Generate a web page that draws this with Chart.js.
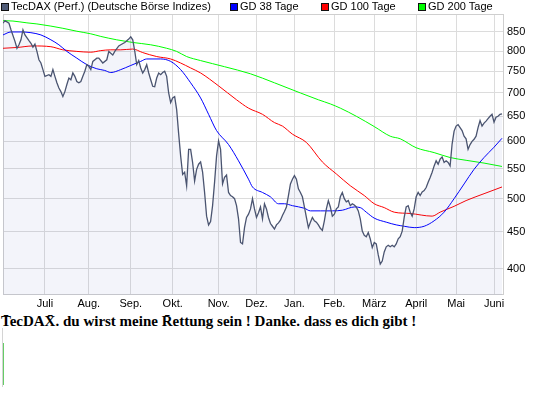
<!DOCTYPE html>
<html>
<head>
<meta charset="utf-8">
<script src="https://cdn.jsdelivr.net/npm/chart.js@4/dist/chart.umd.min.js"></script>
<style>
  body { margin: 0; background: #fff; width: 545px; height: 395px; position: relative; overflow: hidden; font-family: "Liberation Sans", Arial, sans-serif; }
  #wrap { position: absolute; left: 0; top: 0; width: 545px; height: 312px; }
  .lg { position: absolute; top: 0; font-size: 11px; line-height: 13px; color: #000; white-space: nowrap; }
  .box { position: absolute; top: 3px; width: 6px; height: 6px; border: 1px solid #111; }
  #caption { position: absolute; left: 1px; top: 313px; font-family: "Liberation Serif", serif; font-weight: bold; font-size: 15px; line-height: 17px; color: #000; white-space: nowrap; }
  .vline { position: absolute; width: 1px; }
</style>
</head>
<body>
<div id="wrap"><canvas id="chart" width="545" height="312"></canvas></div>
<div id="legend"></div>
<div id="caption">T̄ecDAX̄. du wirst meine R̄ettung sein ! Danke. dass es dich gibt !</div>
<div class="vline" style="left:2px;top:328px;height:59px;background:#d4d4d4"></div>
<div class="vline" style="left:3px;top:343px;height:42px;background:#66cc66"></div>
<script>
/* global Chart */
// x = Handelstag seit Beginn (0 = Anfang Juni), y = Punkte
const monthDays = [21, 43, 64, 85, 108, 127, 146, 166, 186, 207, 227, 246]
const monthLabels = ['Juli', 'Aug.', 'Sep.', 'Okt.', 'Nov.', 'Dez.', 'Jan.', 'Feb.', 'März', 'April', 'Mai', 'Juni']
const yTicks = [400, 450, 500, 550, 600, 650, 700, 750, 800, 850]

const priceDays = [0, 1, 3, 4, 6, 7, 8, 9, 10, 11, 13, 14, 15, 16, 17, 18, 19, 20, 21, 23, 24, 25, 26, 27, 28, 29, 30,
  31, 32, 33, 34, 35, 36, 37, 38, 39, 40, 41, 42, 43, 44, 45, 47, 48, 50, 52, 53, 55, 56, 58, 59, 61, 63, 64, 65,
  66, 67, 68, 69, 70, 71, 72, 73, 74, 75, 76, 77, 78, 79, 80, 81, 82, 83, 84, 85, 86, 87, 88, 89, 90, 91, 92, 93,
  94, 95, 96, 97, 98, 99, 100, 101, 102, 103, 104, 105, 106, 107, 108, 109, 110, 111, 112, 113, 114, 115, 116, 117,
  118, 119, 120, 121, 122, 123, 124, 125, 126, 127, 128, 129, 130, 131, 132, 133, 134, 135, 136, 137, 138, 139, 140,
  141, 142, 143, 144, 145, 146, 147, 148, 149, 150, 151, 152, 153, 154, 155, 156, 157, 158, 159, 160, 161, 162, 163,
  164, 165, 166, 167, 168, 169, 170, 171, 172, 173, 174, 175, 176, 177, 178, 179, 180, 181, 182, 183, 184, 185, 186,
  187, 188, 189, 190, 191, 192, 193, 194, 195, 196, 197, 198, 199, 200, 201, 202, 203, 204, 205, 206, 207, 208, 209,
  210, 211, 212, 213, 214, 215, 216, 217, 218, 219, 220, 221, 222, 223, 224, 225, 226, 227, 228, 229, 230, 231, 232,
  233, 234, 235, 236, 237, 238, 239, 240, 241, 242, 243, 244, 245, 246, 247, 248, 249, 250]
const priceValues = [874, 881, 874, 856, 825, 807, 816, 829, 856, 842, 827, 820, 810, 818, 799, 778, 770, 754, 738, 742, 738, 754, 738, 723, 711, 703, 692,
  703, 719, 734, 730, 746, 738, 726, 723, 726, 738, 750, 766, 762, 754, 774, 782, 782, 770, 778, 799, 790, 799, 813, 816, 822, 831, 837, 829,
  800, 766, 776, 758, 746, 754, 766, 746, 730, 715, 714, 734, 746, 742, 747, 750, 738, 700, 679, 689, 692, 664, 615, 573, 540, 544, 521, 585,
  585, 561, 529, 549, 558, 562, 544, 510, 473, 460, 465, 489, 527, 573, 601, 585, 524, 535, 539, 510, 505, 503, 500, 489,
  469, 435, 433, 456, 471, 476, 484, 500, 484, 471, 478, 487, 469, 492, 484, 471, 462, 458, 454, 460, 463, 467, 474,
  480, 487, 505, 524, 532, 538, 532, 516, 510, 503, 487, 471, 456, 464, 471, 466, 464, 460, 455, 452, 466, 484, 497,
  487, 473, 476, 484, 487, 503, 510, 500, 495, 497, 489, 492, 490, 487, 481, 469, 451, 445, 443, 449, 440, 428, 435,
  433, 418, 406, 410, 422, 429, 431, 429, 431, 429, 433, 440, 443, 451, 471, 487, 489, 479, 473, 484, 503, 510, 505,
  511, 513, 518, 527, 535, 544, 555, 564, 558, 567, 571, 561, 564, 561, 555, 595, 620, 630, 633, 627, 621, 610, 605,
  585, 594, 600, 604, 610, 627, 641, 630, 636, 640, 645, 650, 654, 638, 648, 650, 654, 655]

const gd38Days = [0, 4, 9, 14, 19, 24, 28, 32, 37, 42, 47, 51, 54, 59, 64, 69, 72, 79, 84, 89, 94, 99, 103, 107, 113, 118, 123, 125, 130, 134,
  138, 141, 145, 151, 154, 159, 165, 170, 176, 179, 182, 186, 192, 197, 201, 206, 211, 216, 221, 226, 231, 236, 241, 246, 250]
const gd38Values = [842, 850, 850, 848, 842, 829, 816, 799, 782, 766, 756, 752, 747, 754, 764, 774, 780, 780, 774, 754, 723, 689, 654, 621, 594, 564, 532, 519, 510, 503,
  492, 492, 489, 485, 481, 481, 481, 482, 487, 486, 479, 470, 464, 460, 458, 456, 458, 466, 479, 500, 524, 549, 570, 589, 606]

const gd100Days = [0, 7, 15, 24, 30, 37, 44, 49, 54, 59, 65, 70, 77, 84, 89, 94, 99, 108, 117, 123, 130, 136, 140, 145, 152, 160, 167, 174, 181, 186,
  191, 196, 204, 215, 219, 226, 232, 241, 250]
const gd100Values = [807, 809, 813, 811, 803, 799, 797, 801, 803, 803, 805, 796, 786, 780, 770, 758, 746, 716, 685, 667, 654, 637, 630, 614, 598, 562, 541, 521, 505, 492,
  486, 479, 477, 473, 479, 488, 497, 508, 519]

const gd200Days = [0, 5, 12, 17, 24, 30, 37, 44, 49, 57, 65, 74, 82, 87, 92, 99, 111, 124, 136, 149, 158, 164, 169, 177, 186, 194, 199, 207, 216, 224,
  232, 241, 250]
const gd200Values = [881, 880, 875, 872, 866, 860, 852, 845, 838, 829, 822, 816, 807, 799, 786, 776, 761, 744, 723, 700, 685, 676, 667, 650, 629, 610, 605, 588, 579, 570,
  565, 560, 554]

const seriesNames = ['TecDAX (Perf.) (Deutsche Börse Indizes)', 'GD 38 Tage', 'GD 100 Tage', 'GD 200 Tage']
const seriesColors = ['#4a5470', '#0000ff', '#ff0000', '#00ff00']
const boxColors = ['#505c78', '#0000ff', '#ff0000', '#00ff00']
const legendLeft = [1, 230, 321, 418]

function pts (xs, ys) {
  return xs.map((x, i) => ({ x: x, y: ys[i] }))
}

// Legende oben
const legend = document.getElementById('legend')
seriesNames.forEach((name, i) => {
  const box = document.createElement('div')
  box.className = 'box'
  box.style.left = legendLeft[i] + 'px'
  box.style.background = boxColors[i]
  legend.appendChild(box)
  const txt = document.createElement('div')
  txt.className = 'lg'
  txt.style.left = (legendLeft[i] + 10) + 'px'
  txt.textContent = name
  legend.appendChild(txt)
})

const tickFont = { family: '"Liberation Sans", Arial, sans-serif', size: 11 }

// Rahmen um die Zeichenfläche
const frame = {
  id: 'frame',
  beforeDatasetsDraw (chart) {
    const a = chart.chartArea
    const c = chart.ctx
    c.save()
    c.strokeStyle = '#cfcfcf'
    c.lineWidth = 1
    c.strokeRect(a.left + 0.5, a.top + 0.5, a.right - a.left - 1, a.bottom - a.top - 1)
    c.restore()
  }
}

const ctx = document.getElementById('chart').getContext('2d')
const chart = new Chart(ctx, {
  type: 'line',
  data: {
    datasets: [
      {
        label: seriesNames[0],
        data: pts(priceDays, priceValues),
        borderColor: seriesColors[0],
        borderWidth: 1.3,
        backgroundColor: 'rgba(55, 72, 172, 0.06)',
        fill: 'start',
        pointRadius: 0,
        tension: 0
      },
      {
        label: seriesNames[1],
        data: pts(gd38Days, gd38Values),
        borderColor: seriesColors[1],
        borderWidth: 1,
        fill: false,
        pointRadius: 0,
        cubicInterpolationMode: 'monotone'
      },
      {
        label: seriesNames[2],
        data: pts(gd100Days, gd100Values),
        borderColor: seriesColors[2],
        borderWidth: 1,
        fill: false,
        pointRadius: 0,
        cubicInterpolationMode: 'monotone'
      },
      {
        label: seriesNames[3],
        data: pts(gd200Days, gd200Values),
        borderColor: seriesColors[3],
        borderWidth: 1,
        fill: false,
        pointRadius: 0,
        cubicInterpolationMode: 'monotone'
      }
    ]
  },
  options: {
    responsive: false,
    animation: false,
    layout: { padding: { left: 3, top: 14, right: 0, bottom: 0 } },
    plugins: {
      legend: { display: false },
      tooltip: { enabled: false }
    },
    scales: {
      x: {
        type: 'linear',
        min: 0,
        max: 251,
        afterBuildTicks: (s) => { s.ticks = monthDays.map(v => ({ value: v })) },
        afterFit: (s) => { s.height = 17 },
        ticks: {
          callback: (v) => monthLabels[monthDays.indexOf(v)],
          font: tickFont,
          color: '#000',
          padding: 2,
          maxRotation: 0,
          autoSkip: false
        },
        grid: { color: '#dcdcdc', drawTicks: false },
        border: { display: false }
      },
      y: {
        type: 'logarithmic',
        position: 'right',
        min: 368,
        max: 900,
        afterBuildTicks: (s) => { s.ticks = yTicks.map(v => ({ value: v })) },
        afterFit: (s) => { s.width = 41 },
        ticks: {
          callback: (v) => String(v),
          font: tickFont,
          color: '#000',
          padding: 3
        },
        grid: { color: '#dcdcdc', drawTicks: false },
        border: { display: false }
      }
    }
  },
  plugins: [frame]
})
</script>
</body>
</html>
